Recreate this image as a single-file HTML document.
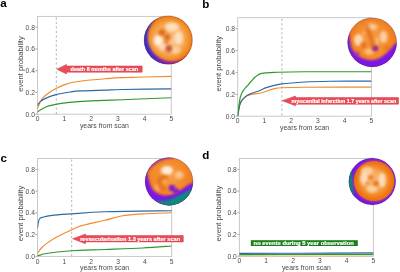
<!DOCTYPE html><html><head><meta charset="utf-8"><style>html,body{margin:0;padding:0;background:#fff;width:400px;height:272px;overflow:hidden}svg{display:block;filter:blur(0.45px)}</style></head><body>
<svg width="400" height="272" viewBox="0 0 400 272">
<defs><filter id="b05" x="-50%" y="-50%" width="200%" height="200%"><feGaussianBlur stdDeviation="0.5"/></filter><filter id="b08" x="-50%" y="-50%" width="200%" height="200%"><feGaussianBlur stdDeviation="0.8"/></filter><filter id="b1" x="-50%" y="-50%" width="200%" height="200%"><feGaussianBlur stdDeviation="1.0"/></filter><filter id="b15" x="-50%" y="-50%" width="200%" height="200%"><feGaussianBlur stdDeviation="1.5"/></filter><filter id="b2" x="-50%" y="-50%" width="200%" height="200%"><feGaussianBlur stdDeviation="2.0"/></filter><filter id="b3" x="-50%" y="-50%" width="200%" height="200%"><feGaussianBlur stdDeviation="3.0"/></filter></defs>
<rect width="400" height="272" fill="#fff"/>
<g><rect x="37.5" y="16.4" width="133.80" height="97.80" fill="none" stroke="#c4c4c4" stroke-width="0.9"/><line x1="35.30" y1="114.20" x2="37.5" y2="114.20" stroke="#999" stroke-width="0.8"/><text x="34.90" y="116.60" font-size="6.7" fill="#4a4a4a" text-anchor="end" font-family="Liberation Sans, sans-serif">0.0</text><line x1="35.30" y1="92.47" x2="37.5" y2="92.47" stroke="#999" stroke-width="0.8"/><text x="34.90" y="94.87" font-size="6.7" fill="#4a4a4a" text-anchor="end" font-family="Liberation Sans, sans-serif">0.2</text><line x1="35.30" y1="70.73" x2="37.5" y2="70.73" stroke="#999" stroke-width="0.8"/><text x="34.90" y="73.13" font-size="6.7" fill="#4a4a4a" text-anchor="end" font-family="Liberation Sans, sans-serif">0.4</text><line x1="35.30" y1="49.00" x2="37.5" y2="49.00" stroke="#999" stroke-width="0.8"/><text x="34.90" y="51.40" font-size="6.7" fill="#4a4a4a" text-anchor="end" font-family="Liberation Sans, sans-serif">0.6</text><line x1="35.30" y1="27.27" x2="37.5" y2="27.27" stroke="#999" stroke-width="0.8"/><text x="34.90" y="29.67" font-size="6.7" fill="#4a4a4a" text-anchor="end" font-family="Liberation Sans, sans-serif">0.8</text><text x="37.50" y="121.40" font-size="6.7" fill="#4a4a4a" text-anchor="middle" font-family="Liberation Sans, sans-serif">0</text><text x="64.26" y="121.40" font-size="6.7" fill="#4a4a4a" text-anchor="middle" font-family="Liberation Sans, sans-serif">1</text><text x="91.02" y="121.40" font-size="6.7" fill="#4a4a4a" text-anchor="middle" font-family="Liberation Sans, sans-serif">2</text><text x="117.78" y="121.40" font-size="6.7" fill="#4a4a4a" text-anchor="middle" font-family="Liberation Sans, sans-serif">3</text><text x="144.54" y="121.40" font-size="6.7" fill="#4a4a4a" text-anchor="middle" font-family="Liberation Sans, sans-serif">4</text><text x="171.30" y="121.40" font-size="6.7" fill="#4a4a4a" text-anchor="middle" font-family="Liberation Sans, sans-serif">5</text><text x="104.40" y="128.10" font-size="6.9" fill="#4a4a4a" text-anchor="middle" font-family="Liberation Sans, sans-serif">years from scan</text><text transform="translate(22.50,64.00) rotate(-90)" font-size="7.5" fill="#4a4a4a" text-anchor="middle" textLength="55.6" lengthAdjust="spacingAndGlyphs" font-family="Liberation Sans, sans-serif">event probability</text><line x1="56.3" y1="17.4" x2="56.3" y2="114.2" stroke="#b4b4b4" stroke-width="1.0" stroke-dasharray="2.2,2.3"/><clipPath id="pca"><rect x="37.5" y="16.4" width="133.80" height="97.80"/></clipPath><g clip-path="url(#pca)"><path d="M37.50,108.20 C38.25,106.63 40.08,101.38 42.00,98.80 C43.92,96.22 46.67,94.42 49.00,92.70 C51.33,90.98 53.37,89.85 56.00,88.50 C58.63,87.15 61.88,85.63 64.80,84.60 C67.72,83.57 69.72,83.02 73.50,82.30 C77.28,81.58 82.25,80.88 87.50,80.30 C92.75,79.72 99.17,79.25 105.00,78.80 C110.83,78.35 111.45,78.00 122.50,77.60 C133.55,77.20 163.17,76.60 171.30,76.40" fill="none" stroke="#f08a2c" stroke-width="1.15" stroke-linecap="round"/><path d="M37.50,105.00 C37.97,104.43 38.97,102.70 40.30,101.60 C41.63,100.50 42.88,99.57 45.50,98.40 C48.12,97.23 51.92,95.67 56.00,94.60 C60.08,93.53 65.92,92.62 70.00,92.00 C74.08,91.38 74.67,91.22 80.50,90.90 C86.33,90.58 98.00,90.33 105.00,90.10 C112.00,89.87 111.45,89.70 122.50,89.50 C133.55,89.30 163.17,89.00 171.30,88.90" fill="none" stroke="#2a6aa4" stroke-width="1.15" stroke-linecap="round"/><path d="M37.50,112.00 C38.25,111.48 40.08,109.92 42.00,108.90 C43.92,107.88 45.78,106.82 49.00,105.90 C52.22,104.98 56.33,104.12 61.30,103.40 C66.27,102.68 71.52,102.10 78.80,101.60 C86.08,101.10 97.72,100.72 105.00,100.40 C112.28,100.08 111.45,100.13 122.50,99.70 C133.55,99.27 163.17,98.12 171.30,97.80" fill="none" stroke="#2e982e" stroke-width="1.15" stroke-linecap="round"/></g><text x="0.3" y="7.1" font-size="11.6" font-weight="bold" fill="#000" font-family="Liberation Sans, sans-serif">a</text></g>
<g><rect x="237.7" y="17.7" width="133.70" height="98.50" fill="none" stroke="#c4c4c4" stroke-width="0.9"/><line x1="235.50" y1="116.20" x2="237.7" y2="116.20" stroke="#999" stroke-width="0.8"/><text x="235.10" y="118.60" font-size="6.7" fill="#4a4a4a" text-anchor="end" font-family="Liberation Sans, sans-serif">0.0</text><line x1="235.50" y1="94.31" x2="237.7" y2="94.31" stroke="#999" stroke-width="0.8"/><text x="235.10" y="96.71" font-size="6.7" fill="#4a4a4a" text-anchor="end" font-family="Liberation Sans, sans-serif">0.2</text><line x1="235.50" y1="72.42" x2="237.7" y2="72.42" stroke="#999" stroke-width="0.8"/><text x="235.10" y="74.82" font-size="6.7" fill="#4a4a4a" text-anchor="end" font-family="Liberation Sans, sans-serif">0.4</text><line x1="235.50" y1="50.53" x2="237.7" y2="50.53" stroke="#999" stroke-width="0.8"/><text x="235.10" y="52.93" font-size="6.7" fill="#4a4a4a" text-anchor="end" font-family="Liberation Sans, sans-serif">0.6</text><line x1="235.50" y1="28.64" x2="237.7" y2="28.64" stroke="#999" stroke-width="0.8"/><text x="235.10" y="31.04" font-size="6.7" fill="#4a4a4a" text-anchor="end" font-family="Liberation Sans, sans-serif">0.8</text><text x="237.70" y="123.40" font-size="6.7" fill="#4a4a4a" text-anchor="middle" font-family="Liberation Sans, sans-serif">0</text><text x="264.44" y="123.40" font-size="6.7" fill="#4a4a4a" text-anchor="middle" font-family="Liberation Sans, sans-serif">1</text><text x="291.18" y="123.40" font-size="6.7" fill="#4a4a4a" text-anchor="middle" font-family="Liberation Sans, sans-serif">2</text><text x="317.92" y="123.40" font-size="6.7" fill="#4a4a4a" text-anchor="middle" font-family="Liberation Sans, sans-serif">3</text><text x="344.66" y="123.40" font-size="6.7" fill="#4a4a4a" text-anchor="middle" font-family="Liberation Sans, sans-serif">4</text><text x="371.40" y="123.40" font-size="6.7" fill="#4a4a4a" text-anchor="middle" font-family="Liberation Sans, sans-serif">5</text><text x="304.55" y="130.10" font-size="6.9" fill="#4a4a4a" text-anchor="middle" font-family="Liberation Sans, sans-serif">years from scan</text><text transform="translate(221.40,63.70) rotate(-90)" font-size="7.5" fill="#4a4a4a" text-anchor="middle" textLength="55.6" lengthAdjust="spacingAndGlyphs" font-family="Liberation Sans, sans-serif">event probability</text><line x1="281.9" y1="18.7" x2="281.9" y2="116.2" stroke="#b4b4b4" stroke-width="1.0" stroke-dasharray="2.2,2.3"/><clipPath id="pcb"><rect x="237.7" y="17.7" width="133.70" height="98.50"/></clipPath><g clip-path="url(#pcb)"><path d="M237.70,116.00 C238.08,114.05 239.12,107.08 240.00,104.30 C240.88,101.52 241.83,100.72 243.00,99.30 C244.17,97.88 245.50,96.63 247.00,95.80 C248.50,94.97 249.83,94.73 252.00,94.30 C254.17,93.87 257.50,93.75 260.00,93.20 C262.50,92.65 264.77,91.72 267.00,91.00 C269.23,90.28 270.90,89.45 273.40,88.90 C275.90,88.35 276.73,87.98 282.00,87.70 C287.27,87.42 290.10,87.30 305.00,87.20 C319.90,87.10 360.33,87.12 371.40,87.10" fill="none" stroke="#f08a2c" stroke-width="1.15" stroke-linecap="round"/><path d="M237.70,116.00 C238.08,114.00 239.12,106.83 240.00,104.00 C240.88,101.17 241.83,100.43 243.00,99.00 C244.17,97.57 245.50,96.37 247.00,95.40 C248.50,94.43 249.83,94.02 252.00,93.20 C254.17,92.38 257.50,91.47 260.00,90.50 C262.50,89.53 263.33,88.50 267.00,87.40 C270.67,86.30 275.67,84.80 282.00,83.90 C288.33,83.00 297.00,82.43 305.00,82.00 C313.00,81.57 318.93,81.45 330.00,81.30 C341.07,81.15 364.50,81.13 371.40,81.10" fill="none" stroke="#2a6aa4" stroke-width="1.15" stroke-linecap="round"/><path d="M237.70,116.00 C237.85,114.58 238.13,110.75 238.60,107.50 C239.07,104.25 239.73,99.32 240.50,96.50 C241.27,93.68 242.12,92.32 243.20,90.60 C244.28,88.88 245.70,87.72 247.00,86.20 C248.30,84.68 249.62,83.03 251.00,81.50 C252.38,79.97 253.52,78.35 255.30,77.00 C257.08,75.65 257.98,74.18 261.70,73.40 C265.42,72.62 270.38,72.57 277.60,72.30 C284.82,72.03 289.37,71.90 305.00,71.80 C320.63,71.70 360.33,71.72 371.40,71.70" fill="none" stroke="#2e982e" stroke-width="1.15" stroke-linecap="round"/></g><text x="202.2" y="8.1" font-size="11.6" font-weight="bold" fill="#000" font-family="Liberation Sans, sans-serif">b</text></g>
<g><rect x="37.5" y="158.5" width="134.20" height="97.90" fill="none" stroke="#c4c4c4" stroke-width="0.9"/><line x1="35.30" y1="256.40" x2="37.5" y2="256.40" stroke="#999" stroke-width="0.8"/><text x="34.90" y="258.80" font-size="6.7" fill="#4a4a4a" text-anchor="end" font-family="Liberation Sans, sans-serif">0.0</text><line x1="35.30" y1="234.64" x2="37.5" y2="234.64" stroke="#999" stroke-width="0.8"/><text x="34.90" y="237.04" font-size="6.7" fill="#4a4a4a" text-anchor="end" font-family="Liberation Sans, sans-serif">0.2</text><line x1="35.30" y1="212.89" x2="37.5" y2="212.89" stroke="#999" stroke-width="0.8"/><text x="34.90" y="215.29" font-size="6.7" fill="#4a4a4a" text-anchor="end" font-family="Liberation Sans, sans-serif">0.4</text><line x1="35.30" y1="191.13" x2="37.5" y2="191.13" stroke="#999" stroke-width="0.8"/><text x="34.90" y="193.53" font-size="6.7" fill="#4a4a4a" text-anchor="end" font-family="Liberation Sans, sans-serif">0.6</text><line x1="35.30" y1="169.38" x2="37.5" y2="169.38" stroke="#999" stroke-width="0.8"/><text x="34.90" y="171.78" font-size="6.7" fill="#4a4a4a" text-anchor="end" font-family="Liberation Sans, sans-serif">0.8</text><text x="37.50" y="263.60" font-size="6.7" fill="#4a4a4a" text-anchor="middle" font-family="Liberation Sans, sans-serif">0</text><text x="64.34" y="263.60" font-size="6.7" fill="#4a4a4a" text-anchor="middle" font-family="Liberation Sans, sans-serif">1</text><text x="91.18" y="263.60" font-size="6.7" fill="#4a4a4a" text-anchor="middle" font-family="Liberation Sans, sans-serif">2</text><text x="118.02" y="263.60" font-size="6.7" fill="#4a4a4a" text-anchor="middle" font-family="Liberation Sans, sans-serif">3</text><text x="144.86" y="263.60" font-size="6.7" fill="#4a4a4a" text-anchor="middle" font-family="Liberation Sans, sans-serif">4</text><text x="171.70" y="263.60" font-size="6.7" fill="#4a4a4a" text-anchor="middle" font-family="Liberation Sans, sans-serif">5</text><text x="104.60" y="270.30" font-size="6.9" fill="#4a4a4a" text-anchor="middle" font-family="Liberation Sans, sans-serif">years from scan</text><text transform="translate(22.50,213.50) rotate(-90)" font-size="7.5" fill="#4a4a4a" text-anchor="middle" textLength="55.6" lengthAdjust="spacingAndGlyphs" font-family="Liberation Sans, sans-serif">event probability</text><line x1="71.7" y1="159.5" x2="71.7" y2="256.4" stroke="#b4b4b4" stroke-width="1.0" stroke-dasharray="2.2,2.3"/><clipPath id="pcc"><rect x="37.5" y="158.5" width="134.20" height="97.90"/></clipPath><g clip-path="url(#pcc)"><path d="M37.50,227.70 C37.80,226.28 38.30,220.98 39.30,219.20 C40.30,217.42 41.38,217.63 43.50,217.00 C45.62,216.37 47.38,215.92 52.00,215.40 C56.62,214.88 62.37,214.52 71.20,213.90 C80.03,213.28 88.25,212.23 105.00,211.70 C121.75,211.17 160.58,210.87 171.70,210.70" fill="none" stroke="#2a6aa4" stroke-width="1.15" stroke-linecap="round"/><path d="M37.50,253.30 C38.15,252.42 39.68,249.78 41.40,248.00 C43.12,246.22 45.32,244.38 47.80,242.60 C50.28,240.82 52.40,239.42 56.30,237.30 C60.20,235.18 66.93,231.85 71.20,229.90 C75.47,227.95 76.27,227.20 81.90,225.60 C87.53,224.00 98.43,221.90 105.00,220.30 C111.57,218.70 115.03,217.07 121.30,216.00 C127.57,214.93 134.20,214.43 142.60,213.90 C151.00,213.37 166.85,212.98 171.70,212.80" fill="none" stroke="#f08a2c" stroke-width="1.15" stroke-linecap="round"/><path d="M37.50,255.90 C39.22,255.47 42.18,254.17 47.80,253.30 C53.42,252.43 61.67,251.33 71.20,250.70 C80.73,250.07 93.10,249.95 105.00,249.50 C116.90,249.05 131.48,248.58 142.60,248.00 C153.72,247.42 166.85,246.33 171.70,246.00" fill="none" stroke="#2e982e" stroke-width="1.15" stroke-linecap="round"/></g><text x="0.6" y="161.5" font-size="11.6" font-weight="bold" fill="#000" font-family="Liberation Sans, sans-serif">c</text></g>
<g><rect x="239.4" y="158.5" width="134.00" height="97.70" fill="none" stroke="#c4c4c4" stroke-width="0.9"/><line x1="237.20" y1="256.20" x2="239.4" y2="256.20" stroke="#999" stroke-width="0.8"/><text x="236.80" y="258.60" font-size="6.7" fill="#4a4a4a" text-anchor="end" font-family="Liberation Sans, sans-serif">0.0</text><line x1="237.20" y1="234.49" x2="239.4" y2="234.49" stroke="#999" stroke-width="0.8"/><text x="236.80" y="236.89" font-size="6.7" fill="#4a4a4a" text-anchor="end" font-family="Liberation Sans, sans-serif">0.2</text><line x1="237.20" y1="212.78" x2="239.4" y2="212.78" stroke="#999" stroke-width="0.8"/><text x="236.80" y="215.18" font-size="6.7" fill="#4a4a4a" text-anchor="end" font-family="Liberation Sans, sans-serif">0.4</text><line x1="237.20" y1="191.07" x2="239.4" y2="191.07" stroke="#999" stroke-width="0.8"/><text x="236.80" y="193.47" font-size="6.7" fill="#4a4a4a" text-anchor="end" font-family="Liberation Sans, sans-serif">0.6</text><line x1="237.20" y1="169.36" x2="239.4" y2="169.36" stroke="#999" stroke-width="0.8"/><text x="236.80" y="171.76" font-size="6.7" fill="#4a4a4a" text-anchor="end" font-family="Liberation Sans, sans-serif">0.8</text><text x="239.40" y="263.40" font-size="6.7" fill="#4a4a4a" text-anchor="middle" font-family="Liberation Sans, sans-serif">0</text><text x="266.20" y="263.40" font-size="6.7" fill="#4a4a4a" text-anchor="middle" font-family="Liberation Sans, sans-serif">1</text><text x="293.00" y="263.40" font-size="6.7" fill="#4a4a4a" text-anchor="middle" font-family="Liberation Sans, sans-serif">2</text><text x="319.80" y="263.40" font-size="6.7" fill="#4a4a4a" text-anchor="middle" font-family="Liberation Sans, sans-serif">3</text><text x="346.60" y="263.40" font-size="6.7" fill="#4a4a4a" text-anchor="middle" font-family="Liberation Sans, sans-serif">4</text><text x="373.40" y="263.40" font-size="6.7" fill="#4a4a4a" text-anchor="middle" font-family="Liberation Sans, sans-serif">5</text><text x="306.40" y="270.10" font-size="6.9" fill="#4a4a4a" text-anchor="middle" font-family="Liberation Sans, sans-serif">years from scan</text><text transform="translate(221.40,213.60) rotate(-90)" font-size="7.5" fill="#4a4a4a" text-anchor="middle" textLength="55.6" lengthAdjust="spacingAndGlyphs" font-family="Liberation Sans, sans-serif">event probability</text><clipPath id="pcd"><rect x="239.4" y="158.5" width="134.00" height="97.70"/></clipPath><g clip-path="url(#pcd)"><path d="M239.40,256.30 C261.73,256.30 351.07,256.30 373.40,256.30" fill="none" stroke="#f08a2c" stroke-width="1.15" stroke-linecap="round"/><path d="M239.40,253.40 C249.50,253.37 277.67,253.28 300.00,253.20 C322.33,253.12 361.17,252.95 373.40,252.90" fill="none" stroke="#2a6aa4" stroke-width="1.15" stroke-linecap="round"/><path d="M239.40,254.60 C249.50,254.58 277.67,254.55 300.00,254.50 C322.33,254.45 361.17,254.33 373.40,254.30" fill="none" stroke="#2e982e" stroke-width="1.15" stroke-linecap="round"/></g><text x="202.3" y="158.8" font-size="11.6" font-weight="bold" fill="#000" font-family="Liberation Sans, sans-serif">d</text></g>
<polygon points="56.80,69.20 66.50,64.40 66.50,66.00 142.20,66.00 142.20,72.20 66.50,72.20 66.50,74.00" fill="#ea4c58" stroke="#c83c46" stroke-width="0.5" stroke-linejoin="round"/><text x="70.6" y="70.90" font-size="5.2" font-weight="bold" fill="#fff" stroke="#fff" stroke-width="0.18" textLength="67.6" lengthAdjust="spacingAndGlyphs" font-family="Liberation Sans, sans-serif">death 8 months after scan</text>
<polygon points="282.20,100.70 295.50,96.00 295.50,97.60 398.50,97.60 398.50,104.20 295.50,104.20 295.50,105.80" fill="#ea4c58" stroke="#c83c46" stroke-width="0.5" stroke-linejoin="round"/><text x="291.6" y="102.70" font-size="5.2" font-weight="bold" fill="#fff" stroke="#fff" stroke-width="0.18" textLength="104.6" lengthAdjust="spacingAndGlyphs" font-family="Liberation Sans, sans-serif">myocardial infarction 1.7 years after scan</text>
<polygon points="72.60,238.80 85.50,234.00 85.50,235.60 183.30,235.60 183.30,241.90 85.50,241.90 85.50,243.80" fill="#ea4c58" stroke="#c83c46" stroke-width="0.5" stroke-linejoin="round"/><text x="80.2" y="240.55" font-size="5.2" font-weight="bold" fill="#fff" stroke="#fff" stroke-width="0.18" textLength="100.0" lengthAdjust="spacingAndGlyphs" font-family="Liberation Sans, sans-serif">revascularisation 1.3 years after scan</text>
<rect x="250.8" y="240.2" width="107" height="5.8" fill="#1a7e1a"/>
<text x="253.6" y="245.0" font-size="5.6" font-weight="bold" fill="#fff" stroke="#fff" stroke-width="0.18" textLength="100.2" lengthAdjust="spacingAndGlyphs" font-family="Liberation Sans, sans-serif">no events during 5 year observation</text>
<clipPath id="ca"><circle cx="168.3" cy="40.0" r="24.3"/></clipPath><radialGradient id="ga" cx="0.52" cy="0.48" r="0.5"><stop offset="0" stop-color="#f9be80"/><stop offset="0.6" stop-color="#f7aa56"/><stop offset="0.86" stop-color="#f28a24"/><stop offset="0.96" stop-color="#ec720c"/><stop offset="1" stop-color="#b85210"/></radialGradient><linearGradient id="pa" x1="0" y1="0.2" x2="0.75" y2="1"><stop offset="0" stop-color="#3030d8"/><stop offset="0.45" stop-color="#3c2cd0"/><stop offset="0.75" stop-color="#7a20c0"/><stop offset="1" stop-color="#c02870"/></linearGradient><g clip-path="url(#ca)"><circle cx="168.3" cy="40.0" r="24.3" fill="url(#ga)"/><ellipse cx="158.3" cy="40.6" rx="4.5" ry="5.5" fill="#fff4e8" opacity="0.95" filter="url(#b15)"/><ellipse cx="172" cy="27" rx="7" ry="4.5" fill="#fde4c8" opacity="0.9" filter="url(#b15)"/><ellipse cx="178.5" cy="38" rx="4.5" ry="7" fill="#fde4c8" opacity="0.9" filter="url(#b15)"/><ellipse cx="162.7" cy="47" rx="4" ry="3.5" fill="#fde4c8" opacity="0.85" filter="url(#b15)"/><ellipse cx="175.5" cy="50" rx="5" ry="4" fill="#fcd8b0" opacity="0.8" filter="url(#b15)"/><ellipse cx="172.5" cy="42" rx="2.5" ry="3" fill="#fcd4a8" opacity="0.6" filter="url(#b15)"/><ellipse cx="162" cy="32.5" rx="3.5" ry="3.2" fill="#e06410" opacity="0.9" filter="url(#b15)"/><ellipse cx="167.3" cy="37.2" rx="3.2" ry="3.2" fill="#da6014" opacity="0.9" filter="url(#b15)"/><ellipse cx="166.4" cy="42" rx="1.8" ry="1.8" fill="#e07020" opacity="0.8" filter="url(#b1)"/><ellipse cx="168.8" cy="48.6" rx="3.2" ry="3.4" fill="#c04a30" opacity="0.9" filter="url(#b15)"/><path d="M140.0,40.0 a28.3,28.3 0 1,0 56.6,0 a28.3,28.3 0 1,0 -56.6,0 Z M147.50000000000003,36.9 a24.6,24.6 0 1,1 49.2,0 a24.6,24.6 0 1,1 -49.2,0 Z" fill="url(#pa)" fill-rule="evenodd" filter="url(#b08)"/></g><circle cx="168.3" cy="40.0" r="24.1" fill="none" stroke="#703020" stroke-width="0.7" opacity="0.5"/><clipPath id="cb"><circle cx="372.2" cy="42.3" r="24.6"/></clipPath><radialGradient id="gb" cx="0.5" cy="0.45" r="0.55"><stop offset="0" stop-color="#f6a048"/><stop offset="0.6" stop-color="#f48c2c"/><stop offset="1" stop-color="#ea7010"/></radialGradient><g clip-path="url(#cb)"><circle cx="372.2" cy="42.3" r="24.6" fill="url(#gb)"/><ellipse cx="358.5" cy="40" rx="4.5" ry="6" fill="#fde0c0" opacity="0.9" filter="url(#b15)"/><ellipse cx="371" cy="27" rx="6.5" ry="3.5" fill="#fcd4a8" opacity="0.85" filter="url(#b15)"/><ellipse cx="383.5" cy="37" rx="3.8" ry="6" fill="#fcd8b0" opacity="0.9" filter="url(#b15)"/><ellipse cx="369" cy="51.5" rx="4.5" ry="3" fill="#fcd0a0" opacity="0.75" filter="url(#b15)"/><ellipse cx="377" cy="41" rx="2" ry="4" fill="#fac898" opacity="0.55" filter="url(#b1)"/><ellipse cx="364" cy="33" rx="2.5" ry="2" fill="#fac898" opacity="0.5" filter="url(#b1)"/><path d="M366,24 Q371,36 374,50" stroke="#e06410" stroke-width="4.5" fill="none" opacity="0.75" filter="url(#b15)"/><ellipse cx="363.5" cy="45" rx="3" ry="3" fill="#e06818" opacity="0.8" filter="url(#b15)"/><ellipse cx="387" cy="48" rx="3.5" ry="2.5" fill="#e46e1c" opacity="0.7" filter="url(#b15)"/><path d="M344,22 L348.6,27 Q349.2,40 351.5,48 Q356,56.5 364,59 Q372,61.5 379,58.5 Q389,53 394.5,44 L400,42 L400,72 L344,72 Z" fill="#7c14e6" filter="url(#b08)"/><ellipse cx="375.5" cy="48.5" rx="2.8" ry="2.8" fill="#8020c8" opacity="0.9" filter="url(#b1)"/><ellipse cx="357" cy="54" rx="3" ry="2.5" fill="#9030c0" opacity="0.6" filter="url(#b1)"/><ellipse cx="347.5" cy="50" rx="1.6" ry="6" fill="#148c80" opacity="0.85" filter="url(#b08)"/></g><circle cx="372.2" cy="42.3" r="24.400000000000002" fill="none" stroke="#402060" stroke-width="0.7" opacity="0.45"/><clipPath id="cc"><circle cx="169.1" cy="181.4" r="24.0"/></clipPath><radialGradient id="gc" cx="0.5" cy="0.4" r="0.6"><stop offset="0" stop-color="#f6a048"/><stop offset="0.6" stop-color="#f38828"/><stop offset="1" stop-color="#e87010"/></radialGradient><g clip-path="url(#cc)"><circle cx="169.1" cy="181.4" r="24.0" fill="url(#gc)"/><ellipse cx="167" cy="170.5" rx="6" ry="4.5" fill="#fff2e4" opacity="0.95" filter="url(#b15)"/><ellipse cx="179" cy="175" rx="4.5" ry="4" fill="#fcd4a8" opacity="0.75" filter="url(#b15)"/><ellipse cx="158" cy="187" rx="3" ry="3.5" fill="#fac490" opacity="0.7" filter="url(#b15)"/><ellipse cx="165" cy="181" rx="2" ry="2.5" fill="#f8b070" opacity="0.7" filter="url(#b1)"/><path d="M168,178 Q159,175 159,182 Q159,189 166,189" stroke="#dc6010" stroke-width="3.6" fill="none" opacity="0.7" filter="url(#b15)"/><path d="M140,150 L176,150 L174,158.2 Q166,158.4 159,161.8 Q153,165 148.5,171 L140,171 Z" fill="#a83890" filter="url(#b1)"/><path d="M140,168 L146.5,170 Q148,179 151,187 Q155.5,195 165,195.5 Q175,195 181,190 Q187,184.5 196,181.5 L196,215 L140,215 Z" fill="#7c14e6" filter="url(#b08)"/><ellipse cx="172" cy="188" rx="3.4" ry="3.2" fill="#7e1ad8" opacity="0.95" filter="url(#b08)"/><ellipse cx="176" cy="191" rx="3.5" ry="2.5" fill="#7e14e0" opacity="0.95" filter="url(#b08)"/><path d="M140,199.5 Q158,203 170,199.5 Q182,194.5 196,186 L196,215 L140,215 Z" fill="#0c8a7c" filter="url(#b08)"/></g><circle cx="169.1" cy="181.4" r="23.8" fill="none" stroke="#402060" stroke-width="0.7" opacity="0.45"/><clipPath id="cd"><circle cx="372.3" cy="181.5" r="23.5"/></clipPath><radialGradient id="gd" cx="0.5" cy="0.5" r="0.5"><stop offset="0" stop-color="#f8b470"/><stop offset="0.55" stop-color="#f49a40"/><stop offset="0.85" stop-color="#f07a14"/><stop offset="1" stop-color="#e86c10"/></radialGradient><g clip-path="url(#cd)"><circle cx="372.3" cy="181.5" r="23.5" fill="#7416e4"/><path d="M345.8,167.5 L351.6,168.5 Q353.0,183.5 353.8,196.5 L345.8,199.5 Z" fill="#0e8478" filter="url(#b08)"/><ellipse cx="374.1" cy="181.0" rx="20.9" ry="20.9" fill="#b83c98" filter="url(#b08)"/><ellipse cx="374.1" cy="181.0" rx="20.1" ry="20.1" fill="url(#gd)" filter="url(#b05)"/><ellipse cx="372" cy="180" rx="9" ry="11" fill="#f8b068" opacity="0.7" filter="url(#b2)"/><ellipse cx="367" cy="171" rx="6" ry="4.5" fill="#fcd4a8" opacity="0.9" filter="url(#b15)"/><ellipse cx="364" cy="178.5" rx="3.8" ry="6.5" fill="#fde4c8" opacity="0.9" filter="url(#b15)"/><ellipse cx="382" cy="180" rx="3.8" ry="7.5" fill="#fde4c8" opacity="0.9" filter="url(#b15)"/><ellipse cx="372" cy="189" rx="5.5" ry="3.5" fill="#fcd8b0" opacity="0.85" filter="url(#b15)"/><ellipse cx="372" cy="178" rx="3" ry="3" fill="#fac898" opacity="0.5" filter="url(#b15)"/><ellipse cx="371.1" cy="177.5" rx="2.6" ry="2.6" fill="#ee7a26" opacity="0.85" filter="url(#b1)"/><ellipse cx="376" cy="183.5" rx="2.8" ry="2.8" fill="#ea7424" opacity="0.9" filter="url(#b1)"/><ellipse cx="367" cy="183" rx="2" ry="2" fill="#f08834" opacity="0.6" filter="url(#b1)"/></g><circle cx="372.3" cy="181.5" r="23.3" fill="none" stroke="#402060" stroke-width="0.7" opacity="0.45"/>
</svg></body></html>
